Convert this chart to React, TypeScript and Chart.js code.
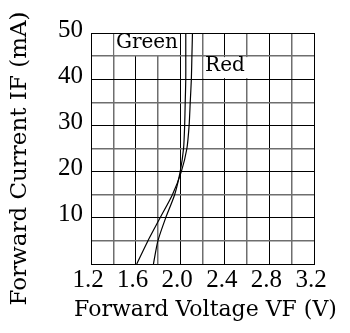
import React, { useEffect, useRef } from "react";
import { Chart, registerables } from "chart.js";

Chart.register(...registerables);

// ---- data ----
const currentLevels = [0, 5, 10, 15, 20, 25, 30, 35, 40, 45, 50]; // mA
const redVoltage = [1.61, 1.71, 1.82, 1.93, 2.01, 2.06, 2.08, 2.09, 2.1, 2.105, 2.11]; // V
const greenVoltage = [1.76, 1.8, 1.87, 1.95, 2.0, 2.03, 2.04, 2.045, 2.05, 2.05, 2.05]; // V
const seriesNames = ["Red", "Green"];

const xMin = 1.2;
const xMax = 3.2;
const xStep = 0.2;
const yMin = 0;
const yMax = 50;
const yStep = 5;

const xTitle = "Forward Voltage VF (V)";
const yTitle = "Forward Current IF (mA)";

// in-plot series labels with white boxes (data-space extents)
const labelBoxes = [
  { text: "Green", v0: 1.41, v1: 1.99, i0: 45, i1: 50 },
  { text: "Red", v0: 2.21, v1: 2.65, i0: 40, i1: 45 },
];

const labelBoxPlugin = {
  id: "labelBoxes",
  beforeDatasetsDraw(chart: any) {
    const { ctx, scales } = chart;
    const xs = scales.x;
    const ys = scales.y;
    ctx.save();
    labelBoxes.forEach((b) => {
      const px0 = xs.getPixelForValue(b.v0);
      const px1 = xs.getPixelForValue(b.v1);
      const pyTop = ys.getPixelForValue(b.i1);
      const pyBot = ys.getPixelForValue(b.i0);
      ctx.fillStyle = "#ffffff";
      ctx.fillRect(px0, pyTop + 1, px1 - px0, pyBot - pyTop - 2);
      ctx.fillStyle = "#000000";
      ctx.font = '20px "DejaVu Serif"';
      ctx.textAlign = "left";
      ctx.textBaseline = "middle";
      ctx.fillText(b.text, px0 + 1.5, (pyTop + pyBot) / 2 - 2);
    });
    ctx.restore();
  },
};

const axisTitlePlugin = {
  id: "axisTitles",
  afterDraw(chart: any) {
    const { ctx, chartArea } = chart;
    ctx.save();
    ctx.fillStyle = "#000000";
    ctx.textAlign = "center";
    ctx.textBaseline = "middle";
    // y title
    ctx.save();
    ctx.translate(20, (chartArea.top + chartArea.bottom) / 2 + 10);
    ctx.rotate(-Math.PI / 2);
    ctx.font = '23px "DejaVu Serif"';
    ctx.fillText(yTitle, 0, 0);
    ctx.restore();
    // x title
    ctx.font = '22px "DejaVu Serif"';
    ctx.fillText(xTitle, (chartArea.left + chartArea.right) / 2 + 3, 310);
    ctx.restore();
  },
};

export default function App() {
  const canvasRef = useRef<HTMLCanvasElement | null>(null);

  useEffect(() => {
    if (!canvasRef.current) return;
    const toPoints = (volts: number[]) =>
      currentLevels.map((c, i) => ({ x: volts[i], y: c }));

    const gridColor = (c: any) => (c.index % 2 === 0 ? "#000000" : "#6e6e6e");
    const gridWidth = (c: any) => (c.index % 2 === 0 ? 1 : 1.5);

    const chart = new Chart(canvasRef.current, {
      type: "line",
      data: {
        datasets: [
          {
            label: seriesNames[0],
            data: toPoints(redVoltage),
            borderColor: "#000000",
            borderWidth: 1.2,
            pointRadius: 0,
            tension: 0.25,
            fill: false,
          },
          {
            label: seriesNames[1],
            data: toPoints(greenVoltage),
            borderColor: "#000000",
            borderWidth: 1.2,
            pointRadius: 0,
            tension: 0.25,
            fill: false,
          },
        ],
      },
      options: {
        animation: false,
        responsive: false,
        devicePixelRatio: 1,
        events: [],
        layout: {
          autoPadding: false,
          padding: { left: 0, top: 33, right: 36, bottom: 0 },
        },
        plugins: {
          legend: { display: false },
          tooltip: { enabled: false },
        },
        scales: {
          x: {
            type: "linear",
            min: xMin,
            max: xMax,
            ticks: {
              stepSize: xStep,
              autoSkip: false,
              maxRotation: 0,
              padding: 1,
              labelOffset: -3,
              color: "#000000",
              font: { family: '"Liberation Serif"', size: 25 },
              callback: (v: any, i: number) => (i % 2 === 0 ? Number(v).toFixed(1) : ""),
            },
            grid: {
              drawTicks: false,
              color: gridColor,
              lineWidth: gridWidth,
            },
            border: { color: "#000000", width: 1 },
            title: { display: false },
            afterFit: (s: any) => {
              s.height = 69;
            },
          },
          y: {
            type: "linear",
            min: yMin,
            max: yMax,
            ticks: {
              stepSize: yStep,
              autoSkip: false,
              padding: 8,
              labelOffset: -3,
              color: "#000000",
              font: { family: '"Liberation Serif"', size: 25 },
              callback: (v: any) => (Number(v) % 10 === 0 && Number(v) > 0 ? String(v) : ""),
            },
            grid: {
              drawTicks: false,
              color: gridColor,
              lineWidth: gridWidth,
            },
            border: { color: "#000000", width: 1 },
            title: { display: false },
            afterFit: (s: any) => {
              s.width = 91;
            },
          },
        },
      },
      plugins: [labelBoxPlugin, axisTitlePlugin],
    });
    return () => chart.destroy();
  }, []);

  return (
    <div style={{ position: "absolute", left: 0, top: 0, width: 350, height: 333, background: "#fff" }}>
      <canvas ref={canvasRef} width={350} height={333} style={{ display: "block" }} />
    </div>
  );
}
